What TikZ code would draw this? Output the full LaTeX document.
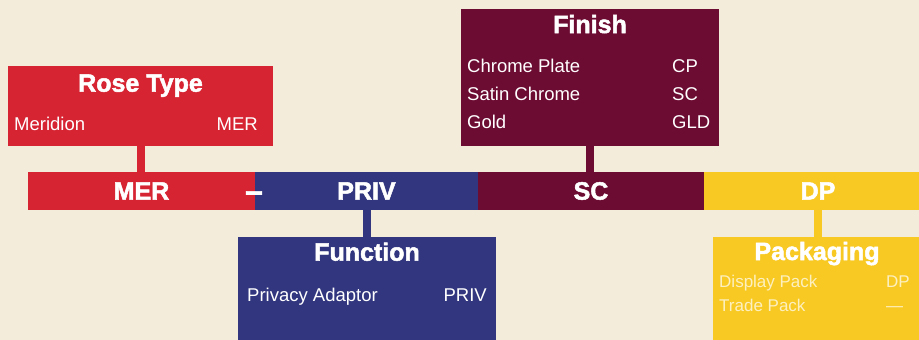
\documentclass[tikz,border=0pt]{standalone}
\usepackage{fontspec}
\setmainfont{Liberation Sans}
\newfontfamily\heavyfont[FakeBold=2]{Liberation Sans Bold}
\usetikzlibrary{positioning}

\definecolor{cream}{HTML}{F4ECDA}
\definecolor{rosered}{HTML}{D62433}
\definecolor{privblue}{HTML}{31367E}
\definecolor{finishred}{HTML}{6D0C33}
\definecolor{packyellow}{HTML}{F8C923}
\definecolor{paletext}{HTML}{FDF0C0}

\tikzset{
  segment/.style={minimum height=38pt, inner sep=0pt, outer sep=0pt, text=white,
    font=\heavyfont\fontsize{25}{25}\selectfont},
  infobox/.style={inner sep=0pt, outer sep=0pt},
  boxtitle/.style={anchor=base, text=white, inner sep=0pt,
    font=\heavyfont\fontsize{25}{25}\selectfont},
  item/.style={anchor=base west, text=white, inner sep=0pt,
    font=\fontsize{18.5}{18.5}\selectfont},
  code/.style={anchor=base east, text=white, inner sep=0pt,
    font=\fontsize{18.5}{18.5}\selectfont},
  paleitem/.style={anchor=base west, text=paletext, inner sep=0pt,
    font=\fontsize{17}{17}\selectfont},
  stem/.style={line width=8pt}
}

\begin{document}
\begin{tikzpicture}[x=1pt, y=-1pt]
  %background
  \clip (0,0) rectangle (919,340);
  \fill[cream] (0,0) rectangle (919,340);

  %draw the code bar
  \node[segment, fill=rosered, minimum width=227pt] (mer) at (141.5,191) {MER};
  \node[segment, fill=privblue, minimum width=223pt, right=0pt of mer] (priv) {PRIV};
  \node[segment, fill=finishred, minimum width=226pt, right=0pt of priv] (sc) {SC};
  \node[segment, fill=packyellow, minimum width=228pt, right=0pt of sc] (dp) {DP};
  \node[boxtitle, font=\heavyfont\fontsize{32}{32}\selectfont] (dash) at (254,201.5) {–};

  %draw boxes
  \node[infobox, fill=rosered, minimum width=265pt, minimum height=80pt] (rosebox) at (140.5,106) {};
  \node[infobox, fill=privblue, minimum width=258pt, minimum height=108pt] (funcbox) at (367,291) {};
  \node[infobox, fill=finishred, minimum width=258pt, minimum height=137pt] (finishbox) at (590,77.5) {};
  \node[infobox, fill=packyellow, minimum width=210pt, minimum height=108pt] (packbox) at (818,291) {};

  %draw stems
  \draw[stem, rosered] (rosebox.south) -- (rosebox.south |- mer.north);
  \draw[stem, privblue] (funcbox.north) -- (funcbox.north |- priv.south);
  \draw[stem, finishred] (finishbox.south) -- (finishbox.south |- sc.north);
  \draw[stem, packyellow] (packbox.north) -- (packbox.north |- dp.south);

  %rose type
  \node[boxtitle] (rosetitle) at (140.5,91.7) {Rose Type};
  \node[item] (meridion) at (14,130) {Meridion};
  \node[code] (meridioncode) at (258,130) {MER};

  %function
  \node[boxtitle] (functitle) at (367,260.7) {Function};
  \node[item] (privacy) at (247,301.7) {Privacy Adaptor};
  \node[code] (privacycode) at (487,301.7) {PRIV};

  %finish
  \node[boxtitle] (finishtitle) at (590,33) {Finish};
  \node[item] (chrome) at (467,72.7) {Chrome Plate};
  \node[item] (satin) at (467,100.7) {Satin Chrome};
  \node[item] (gold) at (467,128.3) {Gold};
  \node[item] (chromecode) at (672,72.7) {CP};
  \node[item] (satincode) at (672,100.7) {SC};
  \node[item] (goldcode) at (672,128.3) {GLD};

  %packaging
  \node[boxtitle] (packtitle) at (817,260) {Packaging};
  \node[paleitem] (display) at (719,287.7) {Display Pack};
  \node[paleitem] (trade) at (719,311) {Trade Pack};
  \node[paleitem] (displaycode) at (886,287.7) {DP};
  \node[paleitem] (tradecode) at (886,311) {—};
\end{tikzpicture}
\end{document}
